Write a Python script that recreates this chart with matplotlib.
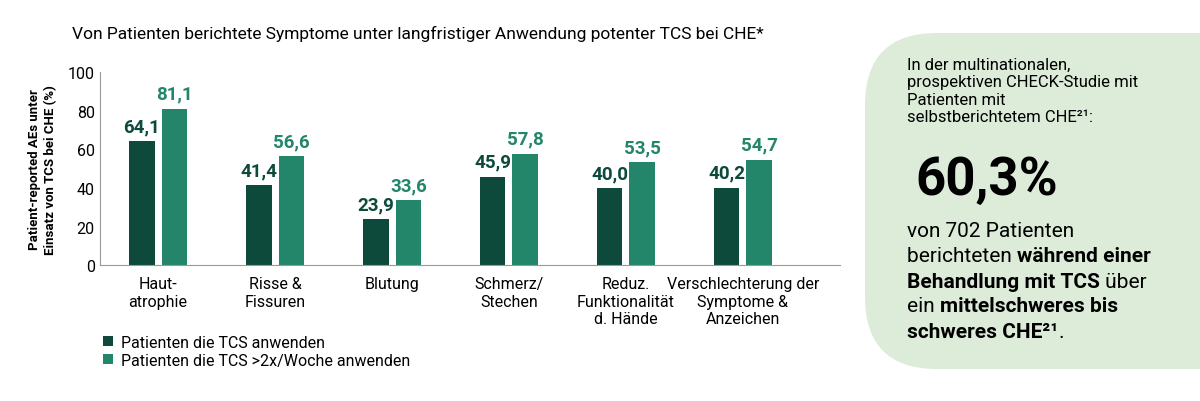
import matplotlib
matplotlib.use("Agg")
import matplotlib.pyplot as plt
from matplotlib.patches import FancyBboxPatch
import numpy as np

categories = ["Haut-\natrophie", "Risse &\nFissuren", "Blutung", "Schmerz/\nStechen",
              "Reduz.\nFunktionalität\nd. Hände", "Verschlechterung der\nSymptome &\nAnzeichen"]
s1 = [64.1, 41.4, 23.9, 45.9, 40.0, 40.2]
s2 = [81.1, 56.6, 33.6, 57.8, 53.5, 54.7]
labels = ["Patienten die TCS anwenden", "Patienten die TCS >2x/Woche anwenden"]
c1, c2 = "#0d4a3b", "#23866a"

plt.rcParams['font.family'] = ['Roboto', 'DejaVu Sans']
fig = plt.figure(figsize=(12, 4.02), dpi=100)
ax = fig.add_axes([0.083, 0.338, 0.617, 0.48])
x = np.arange(len(categories))
w = 0.22
b1 = ax.bar(x - w/2 - 0.03, s1, w, color=c1, label=labels[0])
b2 = ax.bar(x + w/2 + 0.03, s2, w, color=c2, label=labels[1])
for bars, vals, c in ((b1, s1, c1), (b2, s2, c2)):
    for r, v in zip(bars, vals):
        ax.text(r.get_x() + r.get_width()/2, v + 3, f"{v:.1f}".replace(".", ","),
                ha="center", va="bottom", fontsize=13.5, fontweight="bold", color=c)
ax.set_ylim(0, 100)
ax.set_xlim(-0.5, 5.83)
ax.set_yticks(range(0, 101, 20))
ax.tick_params(axis="y", length=0, labelsize=11.5)
ax.tick_params(axis="x", length=0, labelsize=11.5, pad=8)
ax.set_xticks(x)
ax.set_xticklabels(categories, va="top")
for s in ["top", "right"]:
    ax.spines[s].set_visible(False)
ax.spines["left"].set_color("#999999")
ax.spines["bottom"].set_color("#999999")
ax.set_ylabel("Patient-reported AEs unter\nEinsatz von TCS bei CHE (%)", fontsize=9.5,
              fontweight="bold", labelpad=8)
fig.text(0.06, 0.915, "Von Patienten berichtete Symptome unter langfristiger Anwendung potenter TCS bei CHE*",
         fontsize=12.5, va="center")
ax.legend(loc="upper left", bbox_to_anchor=(0.005, -0.36), frameon=False, fontsize=11.5,
          handlelength=0.6, handleheight=0.6, handletextpad=0.5, labelspacing=0.2,
          borderpad=0, borderaxespad=0)

box = FancyBboxPatch((865/1200, 32/402), 400/1200, 336/402, transform=fig.transFigure,
                     boxstyle="round,pad=0,rounding_size=0.06", facecolor="#dcecd9",
                     edgecolor="none", mutation_aspect=3)
fig.patches.append(box)
fig.text(907/1200, 1 - 58/402,
         "In der multinationalen,\nprospektiven CHECK-Studie mit\nPatienten mit\nselbstberichtetem CHE²¹:",
         fontsize=12, va="top", linespacing=1.2)
fig.text(915/1200, 1 - 180/402, "60,3%", fontsize=38, fontweight="bold", va="center")

lines = [
    [("von 702 Patienten", "normal")],
    [("berichteten ", "normal"), ("während einer", "bold")],
    [("Behandlung mit TCS", "bold"), (" über", "normal")],
    [("ein ", "normal"), ("mittelschweres bis", "bold")],
    [("schweres CHE²¹", "bold"), (".", "normal")],
]
fig.canvas.draw()
r = fig.canvas.get_renderer()
y0 = 1 - 232/402
dy = 25/402
for i, segs in enumerate(lines):
    xp = 907/1200
    for s, wt in segs:
        t = fig.text(xp, y0 - i*dy, s, fontsize=15, fontweight=wt, va="center")
        bb = t.get_window_extent(renderer=r)
        xp += bb.width / 1200
fig.savefig("out.png", dpi=100)
